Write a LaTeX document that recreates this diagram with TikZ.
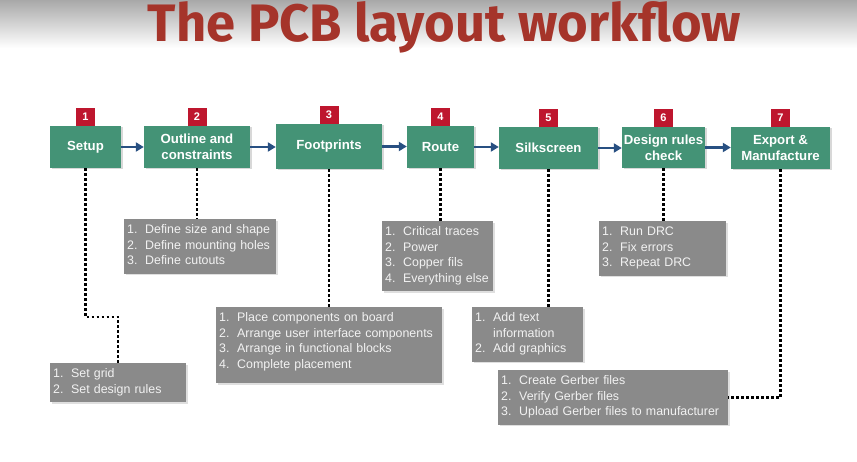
\documentclass[tikz,border=0pt]{standalone}
\usepackage{graphicx}
\usepackage{fontspec}
\setmainfont{Liberation Sans}
\newfontfamily\titlefont{Fira Sans}
\usetikzlibrary{positioning,arrows.meta,shadows}
\definecolor{stepgreen}{RGB}{68,147,118}
\definecolor{numred}{RGB}{190,22,46}
\definecolor{flowblue}{RGB}{40,80,130}
\definecolor{notegray}{RGB}{138,138,138}
\definecolor{titlered}{RGB}{165,52,42}
\tikzset{>={Triangle[length=8pt,width=9pt]}}
\tikzset{
  stepbox/.style={fill=stepgreen, text=white, font=\bfseries\fontsize{13.2}{16}\selectfont,
    align=center, inner sep=1pt, drop shadow={opacity=0.3,shadow xshift=1.5pt,shadow yshift=-1.5pt}},
  num/.style={fill=numred, text=white, font=\bfseries\fontsize{11}{12}\selectfont,
    minimum width=19pt, minimum height=18pt, inner sep=0pt},
  note/.style={fill=notegray, text=white!95!black, font=\fontsize{12.4}{15.5}\selectfont,
    align=left, anchor=north west, inner xsep=3pt, inner ysep=4pt,
    drop shadow={opacity=0.25,shadow xshift=1.5pt,shadow yshift=-1.5pt}},
  flow/.style={->, draw=flowblue, line width=2.5pt},
  dots/.style={line width=2.5pt, dash pattern=on 2.5pt off 2.5pt}
}
\newcommand{\itm}[2]{\rule[-5pt]{0pt}{15.5pt}\makebox[18pt][l]{#1}\mbox{#2}}

\begin{document}
\begin{tikzpicture}[x=1pt,y=-1pt]
\useasboundingbox (0,0) rectangle (857,462);
\fill[white] (0,0) rectangle (857,462);
\shade[top color=black!34, bottom color=white] (0,0) rectangle (857,48);

\node[anchor=base, inner sep=0pt, text=titlered] (title) at (444.5,42)
  {\resizebox{593pt}{40pt}{\titlefont\bfseries The PCB layout workflow}};

% steps
\node[stepbox, minimum width=71pt, minimum height=42pt] (setup) at (85.5,147) {Setup};
\node[stepbox, minimum width=106pt, minimum height=42pt] (outline) at (197,147) {Outline and\\constraints};
\node[stepbox, minimum width=106pt, minimum height=45pt] (footprints) at (329,146.5) {Footprints};
\node[stepbox, minimum width=67pt, minimum height=42pt] (route) at (440.5,147) {Route};
\node[stepbox, minimum width=99pt, minimum height=42pt] (silkscreen) at (548.5,148) {Silkscreen};
\node[stepbox, minimum width=83pt, minimum height=41pt] (drc) at (663.5,147.5) {Design rules\\check};
\node[stepbox, minimum width=99pt, minimum height=42pt] (export) at (780.5,148) {Export \&\\Manufacture};

\node[num, above=0pt of setup] (n1) {1};
\node[num, above=0pt of outline] (n2) {2};
\node[num, above=0pt of footprints] (n3) {3};
\node[num, above=0pt of route] (n4) {4};
\node[num, above=0pt of silkscreen] (n5) {5};
\node[num, above=0pt of drc] (n6) {6};
\node[num, above=0pt of export] (n7) {7};

\draw[flow] (setup.east) -- (setup.east -| outline.west);
\draw[flow] (outline.east) -- (outline.east -| footprints.west);
\draw[flow] (footprints.east) -- (footprints.east -| route.west);
\draw[flow] (route.east) -- (route.east -| silkscreen.west);
\draw[flow] (silkscreen.east) -- (silkscreen.east -| drc.west);
\draw[flow] (drc.east) -- (drc.east -| export.west);

% task lists
\node[note, text width=130pt] (setupL) at (50,363)
  {\itm{1.}{Set grid}\\\itm{2.}{Set design rules}};
\node[note, text width=146pt] (outlineL) at (124,219)
  {\itm{1.}{Define size and shape}\\\itm{2.}{Define mounting holes}\\\itm{3.}{Define cutouts}};
\node[note, text width=220pt] (footprintsL) at (216,307)
  {\itm{1.}{Place components on board}\\\itm{2.}{Arrange user interface components}\\
   \itm{3.}{Arrange in functional blocks}\\\itm{4.}{Complete placement}\rule[-11pt]{0pt}{1pt}};
\node[note, text width=105pt] (routeL) at (382,221)
  {\itm{1.}{Critical traces}\\\itm{2.}{Power}\\\itm{3.}{Copper fils}\\\itm{4.}{Everything else}};
\node[note, text width=105pt] (silkscreenL) at (472,307)
  {\itm{1.}{Add text}\\\itm{}{information}\\\itm{2.}{Add graphics}};
\node[note, text width=121pt] (drcL) at (599,221)
  {\itm{1.}{Run DRC}\\\itm{2.}{Fix errors}\\\itm{3.}{Repeat DRC}};
\node[note, text width=224pt] (exportL) at (498,370)
  {\itm{1.}{Create Gerber files}\\\itm{2.}{Verify Gerber files}\\\itm{3.}{Upload Gerber files to manufacturer}};

\draw[dots] (setup.south) |- ([yshift=46pt]setupL.north) -- (setupL.north);
\draw[dots] (outline.south) -- (outline.south |- outlineL.north);
\draw[dots] (footprints.south) -- (footprints.south |- footprintsL.north);
\draw[dots] (route.south) -- (route.south |- routeL.north);
\draw[dots] (silkscreen.south) -- (silkscreen.south |- silkscreenL.north);
\draw[dots] (drc.south) -- (drc.south |- drcL.north);
\draw[dots] (export.south) |- (exportL.east);
\end{tikzpicture}
\end{document}
